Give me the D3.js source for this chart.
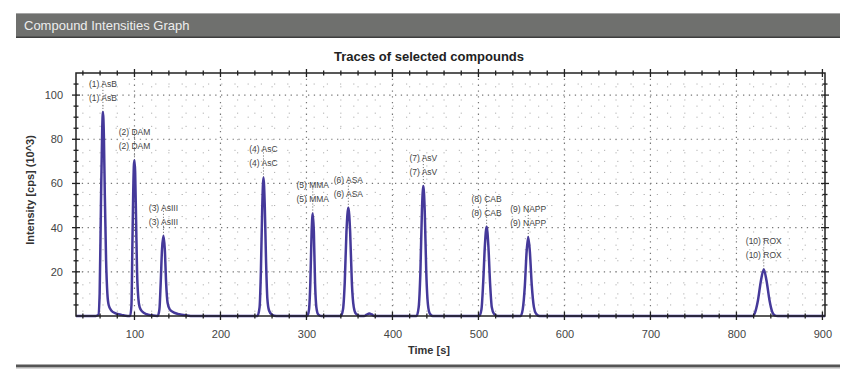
<!DOCTYPE html>
<html>
<head>
<meta charset="utf-8">
<script src="https://cdn.jsdelivr.net/npm/d3@7"></script>
<style>
  body { margin: 0; background: #fff; }
  text { font-family: Arial, "Liberation Sans", sans-serif; }
</style>
</head>
<body>
<svg id="chart"></svg>
<script>
const WIDTH = 857, HEIGHT = 378;

// peaks: names, retention times [s], heights [10^3 cps]
const peakLabels = ["(1) AsB", "(2) DAM", "(3) AsIII", "(4) AsC", "(5) MMA",
                    "(6) ASA", "(7) AsV", "(8) CAB", "(9) NAPP", "(10) ROX"];
const peakTimes = [63.3, 100, 133.7, 250, 307.3, 348.7, 435.9, 509.5, 557.9, 831.8];
const peakHeights = [92.4, 70.5, 36.3, 62.7, 46.4, 49, 58.8, 40.4, 35.8, 21.1];

// trace, [time, intensity]
const traceAsB = [[32, 0], [55, 0], [58, 0.5], [59.5, 10], [61, 50], [62.5, 85], [63.3, 92.4], [64.5, 80],
                  [65.5, 55], [67, 25], [68.5, 10], [70, 5], [73, 2.5], [78, 1.2], [85, 0.5], [92, 0]];
const traceDAM = [[95, 0], [96.5, 5], [97.5, 30], [98.5, 55], [99.3, 68], [100, 70.5], [100.8, 65],
                  [101.8, 45], [103, 20], [104.5, 8], [106, 4], [109, 2], [114, 0.8], [120, 0.3]];
const traceAsIII = [[127, 0], [129, 3], [130.5, 15], [132, 30], [133.7, 36.3], [135.3, 30], [136.8, 15],
                    [138.5, 6], [141, 3], [146, 1.5], [152, 0.8], [160, 0.3], [168, 0]];
const traceAsC = [[243, 0], [245.5, 4], [247, 20], [248.5, 48], [250, 62.7], [251.5, 50], [253, 25],
                  [254.5, 8], [256.5, 2.5], [260, 0.5], [265, 0]];
const traceMMA = [[301, 0], [303, 3], [304.5, 15], [306, 38], [307.3, 46.4], [308.6, 38], [310, 15],
                  [311.5, 4], [313.5, 0.8], [317, 0]];
const traceASA = [[340, 0], [342.5, 3], [344.5, 15], [346.5, 38], [348.7, 49], [350.8, 38], [352.8, 15],
                  [355, 4], [357.5, 1], [362, 0], [367, 0], [370, 0.6], [373, 1.1], [376, 0.7], [379, 0]];
const traceAsV = [[428, 0], [430.5, 4], [432.5, 20], [434.3, 48], [435.9, 58.8], [437.5, 48], [439.3, 20],
                  [441.3, 5], [443.5, 1], [447, 0]];
const traceCAB = [[501, 0], [503.5, 3], [505.5, 15], [507.5, 32], [509.5, 40.4], [511.5, 32], [513.5, 15],
                  [515.5, 4], [518, 1], [522, 0]];
const traceNAPP = [[549, 0], [551.5, 3], [554, 14], [556, 29], [557.9, 35.8], [559.8, 29], [562, 14],
                   [564.5, 4], [567, 1], [571, 0]];
const traceROX = [[819, 0], [822, 2], [825, 7], [828.5, 16], [831.8, 21.1], [835, 16], [838.5, 7],
                  [841.5, 2], [844.5, 0.3], [848, 0], [903, 0]];

const xMajor = [100, 200, 300, 400, 500, 600, 700, 800, 900];
const yMajor = [20, 40, 60, 80, 100];

const trace = [].concat(traceAsB, traceDAM, traceAsIII, traceAsC, traceMMA,
                        traceASA, traceAsV, traceCAB, traceNAPP, traceROX);

const svg = d3.select("#chart").attr("width", WIDTH).attr("height", HEIGHT);

// header bar
svg.append("rect").attr("x", 16).attr("y", 13).attr("width", 824).attr("height", 25)
    .attr("fill", "#6f706e");
svg.append("rect").attr("x", 16).attr("y", 13).attr("width", 824).attr("height", 1)
    .attr("fill", "#a5a5a5");
svg.append("rect").attr("x", 16).attr("y", 36.5).attr("width", 824).attr("height", 1.5)
    .attr("fill", "#3e3e3e");
svg.append("text").attr("x", 24).attr("y", 30)
    .attr("fill", "#ededed").style("font-size", "13px")
    .text("Compound Intensities Graph");

// bottom rule
svg.append("rect").attr("x", 16).attr("y", 364.5).attr("width", 824).attr("height", 2.5)
    .attr("fill", "#555");
svg.append("rect").attr("x", 16).attr("y", 367).attr("width", 824).attr("height", 1.5)
    .attr("fill", "#b0b0b0");

const plot = { left: 76, right: 825, top: 73, bottom: 316 };

const x = d3.scaleLinear().domain([32, 903]).range([plot.left, plot.right]);
const y = d3.scaleLinear().domain([0, 110]).range([plot.bottom, plot.top]);

const xMinor = d3.range(40, 903, 20).filter(d => !xMajor.includes(d));
const yMinor = d3.range(5, 110, 5).filter(d => !yMajor.includes(d));

// title
svg.append("text").attr("x", 429).attr("y", 61).attr("text-anchor", "middle")
    .style("font-size", "13px").style("font-weight", "bold").attr("fill", "#222")
    .text("Traces of selected compounds");

// grids
const grid = svg.append("g").attr("id", "grid");
grid.selectAll("line.xminor").data(xMinor).join("line").attr("class", "xminor")
    .attr("x1", d => x(d)).attr("x2", d => x(d))
    .attr("y1", plot.top).attr("y2", plot.bottom)
    .attr("stroke", "#b0b0b0").attr("stroke-dasharray", "1.2,12");
grid.selectAll("line.yminor").data(yMinor).join("line").attr("class", "yminor")
    .attr("y1", d => y(d)).attr("y2", d => y(d))
    .attr("x1", plot.left).attr("x2", plot.right)
    .attr("stroke", "#b0b0b0").attr("stroke-dasharray", "1.2,12");
grid.selectAll("line.xmajor").data(xMajor).join("line").attr("class", "xmajor")
    .attr("x1", d => x(d)).attr("x2", d => x(d))
    .attr("y1", plot.top).attr("y2", plot.bottom)
    .attr("stroke", "#777").attr("stroke-width", 1.2).attr("stroke-dasharray", "1.3,4.5");
grid.selectAll("line.ymajor").data(yMajor).join("line").attr("class", "ymajor")
    .attr("y1", d => y(d)).attr("y2", d => y(d))
    .attr("x1", plot.left).attr("x2", plot.right)
    .attr("stroke", "#777").attr("stroke-width", 1.2).attr("stroke-dasharray", "1.3,4.5");

// peak labels with dotted leaders
const labels = svg.append("g").attr("id", "peak-labels");
peakLabels.forEach((name, i) => {
    const px = x(peakTimes[i]), py = y(peakHeights[i]);
    labels.append("line").attr("x1", px).attr("x2", px)
        .attr("y1", py).attr("y2", py - 32)
        .attr("stroke", "#666").attr("stroke-dasharray", "1,2");
    [11, 25].forEach(off => {
        labels.append("text").attr("x", px).attr("y", py - off)
            .attr("text-anchor", "middle").style("font-size", "8.5px")
            .attr("fill", "#444").text(name);
    });
});

// trace
const line = d3.line().x(d => x(d[0])).y(d => y(d[1])).curve(d3.curveMonotoneX);
svg.append("path").datum(trace).attr("d", line)
    .attr("fill", "none").attr("stroke", "#45399a").attr("stroke-width", 2.5)
    .attr("stroke-linejoin", "round");

// frame
svg.append("rect").attr("x", plot.left).attr("y", plot.top)
    .attr("width", plot.right - plot.left).attr("height", plot.bottom - plot.top)
    .attr("fill", "none").attr("stroke", "#222").attr("stroke-width", 1.5);

// ticks on all four sides
const ticks = svg.append("g").attr("id", "ticks").attr("stroke", "#222");
[[xMajor, 4], [xMinor, 2.5]].forEach(([vals, len]) => {
    vals.forEach(v => {
        ticks.append("line").attr("x1", x(v)).attr("x2", x(v))
            .attr("y1", plot.bottom - len).attr("y2", plot.bottom + len).attr("stroke-width", 1.3);
        ticks.append("line").attr("x1", x(v)).attr("x2", x(v))
            .attr("y1", plot.top - len).attr("y2", plot.top + len).attr("stroke-width", 1.3);
    });
});
[[yMajor, 4], [yMinor, 2.5]].forEach(([vals, len]) => {
    vals.forEach(v => {
        ticks.append("line").attr("y1", y(v)).attr("y2", y(v))
            .attr("x1", plot.left - len).attr("x2", plot.left + len).attr("stroke-width", 1.3);
        ticks.append("line").attr("y1", y(v)).attr("y2", y(v))
            .attr("x1", plot.right - len).attr("x2", plot.right + len).attr("stroke-width", 1.3);
    });
});

// axis labels via d3 axes (lines hidden, only text)
const xAxis = svg.append("g").attr("transform", `translate(0, ${plot.bottom})`)
    .call(d3.axisBottom(x).tickValues(xMajor).tickSize(0).tickPadding(14));
const yAxis = svg.append("g").attr("transform", `translate(${plot.left}, 0)`)
    .call(d3.axisLeft(y).tickValues(yMajor).tickSize(0).tickPadding(13));
[xAxis, yAxis].forEach(a => {
    a.select(".domain").remove();
    a.selectAll("text").style("font-size", "11px").attr("fill", "#444")
        .style("font-family", "Arial, 'Liberation Sans', sans-serif");
});

svg.append("text").attr("x", 429).attr("y", 354).attr("text-anchor", "middle")
    .style("font-size", "11px").style("font-weight", "bold").attr("fill", "#333")
    .text("Time [s]");
svg.append("text").attr("transform", "translate(34, 190) rotate(-90)")
    .attr("text-anchor", "middle")
    .style("font-size", "11px").style("font-weight", "bold").attr("fill", "#333")
    .text("Intensity [cps] (10^3)");
</script>
</body>
</html>
